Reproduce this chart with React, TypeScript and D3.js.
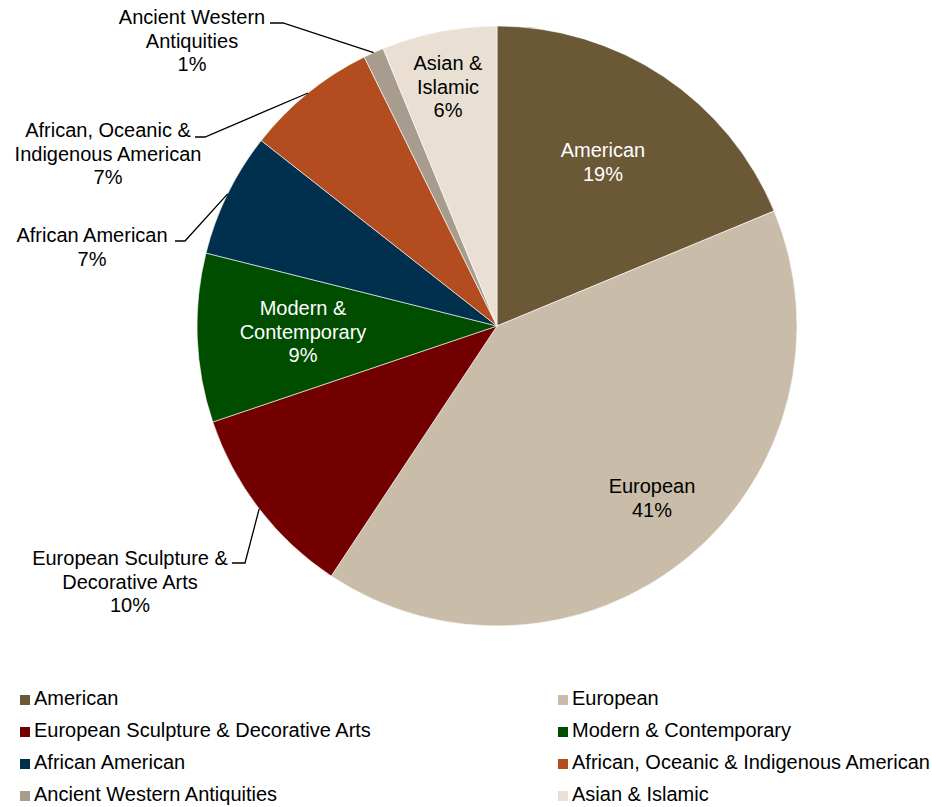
import React from "react";
import * as d3 from "d3";

// departments and their share of the collection (%)
const departments = [
  "American",
  "European",
  "European Sculpture & Decorative Arts",
  "Modern & Contemporary",
  "African American",
  "African, Oceanic & Indigenous American",
  "Ancient Western Antiquities",
  "Asian & Islamic",
];
const shares = [18.75, 40.6, 10.5, 9.1, 6.7, 7.1, 1.1, 6.2];
const pctLabels = ["19%", "41%", "10%", "9%", "7%", "7%", "1%", "6%"];
const colors = ["#6b5837", "#c9bda9", "#720000", "#004d00", "#00304d", "#b34d1f", "#a89c8e", "#e9e0d3"];

type Slice = {name: string; value: number; pct: string; color: string};
const slices: Slice[] = departments.map((name, i) => ({
  name,
  value: shares[i],
  pct: pctLabels[i],
  color: colors[i],
}));

// label layout: text lines, centre x, first baseline, optional leader elbow/end
type LabelLayout = {
  lines: string[];
  x: number;
  y: number;
  fill: string;
  leader?: {x0: number; x1: number; y: number};
};
const labelLayout: Record<string, LabelLayout> = {
  "American": {lines: ["American"], x: 603, y: 157, fill: "#fff"},
  "European": {lines: ["European"], x: 652, y: 493, fill: "#000"},
  "European Sculpture & Decorative Arts": {
    lines: ["European Sculpture &", "Decorative Arts"], x: 130, y: 565, fill: "#000",
    leader: {x0: 232, x1: 245, y: 563},
  },
  "Modern & Contemporary": {lines: ["Modern &", "Contemporary"], x: 303, y: 315, fill: "#fff"},
  "African American": {
    lines: ["African American"], x: 92, y: 242, fill: "#000",
    leader: {x0: 175, x1: 185, y: 241},
  },
  "African, Oceanic & Indigenous American": {
    lines: ["African, Oceanic &", "Indigenous American"], x: 108, y: 137, fill: "#000",
    leader: {x0: 195, x1: 205, y: 137},
  },
  "Ancient Western Antiquities": {
    lines: ["Ancient Western", "Antiquities"], x: 192, y: 24, fill: "#000",
    leader: {x0: 270, x1: 283, y: 23},
  },
  "Asian & Islamic": {lines: ["Asian &", "Islamic"], x: 448, y: 70, fill: "#000"},
};

const W = 932;
const H = 807;
const cx = 497;
const cy = 326;
const R = 300;
const FONT = "'Liberation Sans', Arial, sans-serif";
const LINE = 23.5;

const App = () => {
  const pie = d3.pie<Slice>().value(d => d.value).sort(null);
  const arc = d3.arc<d3.PieArcDatum<Slice>>().innerRadius(0).outerRadius(R);
  const edgeArc = d3.arc<d3.PieArcDatum<Slice>>().innerRadius(R).outerRadius(R);
  const arcs = pie(slices);

  // legend: square left edge per column, text baseline per row
  const legendX = d3.scalePoint<number>().domain([0, 1]).range([20, 558]);
  const legendY = d3.scaleLinear().domain([0, 3]).range([705, 801]);

  return (
    <svg width={W} height={H} style={{position: "absolute", left: 0, top: 0, background: "#fff"}}
         fontFamily={FONT} fontSize={20}>
      <g transform={`translate(${cx} ${cy})`}>
        {arcs.map((d, i) => (
          <path key={i} d={arc(d) || ""} fill={d.data.color} stroke="#fff" strokeWidth={0.6}/>
        ))}
      </g>
      {arcs.map((d, i) => {
        const lay = labelLayout[d.data.name];
        const lines = [...lay.lines, d.data.pct];
        let leader = null;
        if (lay.leader) {
          const [ex, ey] = edgeArc.centroid(d);
          leader = (
            <polyline
              points={`${lay.leader.x0},${lay.leader.y} ${lay.leader.x1},${lay.leader.y} ${cx + ex},${cy + ey}`}
              fill="none" stroke="#000" strokeWidth={1.3}/>
          );
        }
        return (
          <g key={i}>
            {leader}
            <text textAnchor="middle" fill={lay.fill}>
              {lines.map((l, j) => (
                <tspan key={j} x={lay.x} y={lay.y + j * LINE}>{l}</tspan>
              ))}
            </text>
          </g>
        );
      })}
      {slices.map((s, i) => {
        const x = legendX(i % 2) as number;
        const y = legendY(Math.floor(i / 2));
        return (
          <g key={i} transform={`translate(${x} ${y})`}>
            <rect x={0} y={-10} width={10} height={10} fill={s.color}/>
            <text x={14} y={0} fill="#000">{s.name}</text>
          </g>
        );
      })}
    </svg>
  );
};

export default App;
